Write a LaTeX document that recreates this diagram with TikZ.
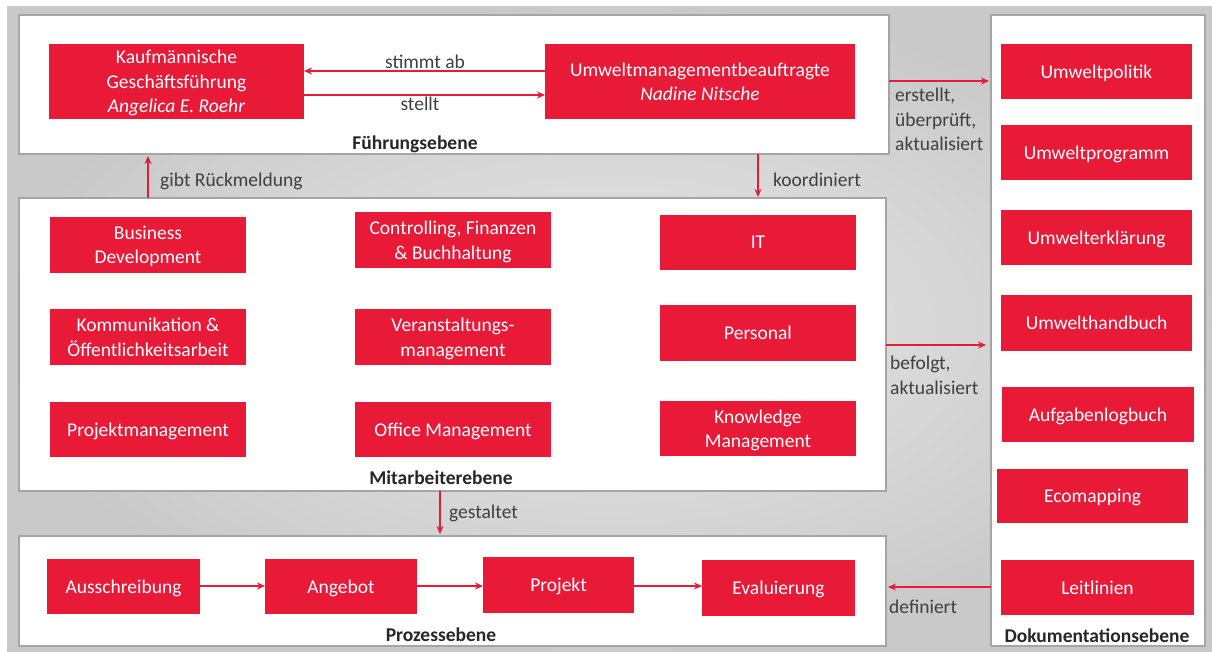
\documentclass[tikz,border=0pt]{standalone}
\usepackage{fontspec}
\setmainfont{Carlito}
\usetikzlibrary{arrows.meta,calc}
\definecolor{hred}{RGB}{232,26,55}
\definecolor{lblgray}{RGB}{64,64,64}
\definecolor{framegray}{RGB}{165,165,165}
\begin{document}
\begin{tikzpicture}[x=1pt,y=-1pt,
  txt/.style={font=\fontsize{19.5}{24.5}\selectfont},
  rbox/.style={txt,fill=hred,text=white,align=center,inner sep=0pt,outer sep=0pt,text depth=0pt},
  frame/.style={draw=framegray,line width=1.3pt,fill=white,inner sep=0pt,outer sep=0pt},
  lbl/.style={txt,text=lblgray,inner sep=0pt},
  lvl/.style={txt,font=\fontsize{19.5}{24.5}\selectfont\bfseries,text=black!85,inner sep=0pt},
  arr/.style={draw=hred,line width=2pt,-{Stealth[length=8pt,width=7pt]}}
]
\useasboundingbox (0,0) rectangle (1212,651);
\fill[white] (0,0) rectangle (1212,651);
\shade[inner color=gray!18,outer color=gray!42] (7,6) rectangle (1212,651);

% frames
\node[frame,minimum width=870pt,minimum height=139pt] (fe) at (454,84.5) {};
\node[frame,minimum width=867pt,minimum height=293pt] (me) at (452.5,344.5) {};
\node[frame,minimum width=867pt,minimum height=110pt] (pe) at (452.5,591) {};
\node[frame,minimum width=214pt,minimum height=631pt] (de) at (1098,330.5) {};

% Fuehrungsebene
\node[rbox,minimum width=255pt,minimum height=75pt] (kgf) at (176.5,81.5) {Kaufmännische\\Geschäftsführung\\\textit{Angelica E. Roehr}};
\node[rbox,minimum width=310pt,minimum height=75pt] (umb) at (700,81.5) {Umweltmanagementbeauftragte\\\textit{Nadine Nitsche}};
\node[lvl] (lfe) at (415,144) {Führungsebene};

% Mitarbeiterebene
\node[rbox,minimum width=196pt,minimum height=56pt] (bd) at (148,245) {Business\\Development};
\node[rbox,minimum width=196pt,minimum height=56pt] (kom) at (148,337) {Kommunikation \&\\Öffentlichkeitsarbeit};
\node[rbox,minimum width=196pt,minimum height=55pt] (pm) at (148,429.5) {Projektmanagement};
\node[rbox,minimum width=196pt,minimum height=56pt] (ctrl) at (453,240) {Controlling, Finanzen\\\& Buchhaltung};
\node[rbox,minimum width=196pt,minimum height=56pt] (va) at (453,337) {Veranstaltungs-\\management};
\node[rbox,minimum width=196pt,minimum height=55pt] (om) at (453,429.5) {Office Management};
\node[rbox,minimum width=196pt,minimum height=55pt] (it) at (758,242.5) {IT};
\node[rbox,minimum width=196pt,minimum height=56pt] (pers) at (758,333) {Personal};
\node[rbox,minimum width=196pt,minimum height=55pt] (km) at (758,428.5) {Knowledge\\Management};
\node[lvl] (lme) at (441,478) {Mitarbeiterebene};

% Prozessebene
\node[rbox,minimum width=153pt,minimum height=55pt] (aus) at (123.5,586.5) {Ausschreibung};
\node[rbox,minimum width=152pt,minimum height=55pt] (ang) at (341,586.5) {Angebot};
\node[rbox,minimum width=151pt,minimum height=56pt] (proj) at (558.5,585) {Projekt};
\node[rbox,minimum width=153pt,minimum height=56pt] (eval) at (778.5,588) {Evaluierung};
\node[lvl] (lpe) at (441,635) {Prozessebene};

% Dokumentationsebene
\node[rbox,minimum width=191pt,minimum height=55pt] (up) at (1096.5,71.5) {Umweltpolitik};
\node[rbox,minimum width=191pt,minimum height=55pt] (uprog) at (1096.5,152.5) {Umweltprogramm};
\node[rbox,minimum width=191pt,minimum height=55pt] (uerk) at (1096.5,237.5) {Umwelterklärung};
\node[rbox,minimum width=191pt,minimum height=56pt] (uhb) at (1096.5,323) {Umwelthandbuch};
\node[rbox,minimum width=192pt,minimum height=55pt] (alb) at (1098,414.5) {Aufgabenlogbuch};
\node[rbox,minimum width=191pt,minimum height=54pt] (eco) at (1092.5,496) {Ecomapping};
\node[rbox,minimum width=193pt,minimum height=55pt] (leit) at (1097.5,587.5) {Leitlinien};
\node[lvl] (lde) at (1097,636) {Dokumentationsebene};

% connectors in Fuehrungsebene
\draw[arr] ($(umb.west)+(0,-10.5)$) -- ($(kgf.east)+(0,-10.5)$);
\draw[arr] ($(kgf.east)+(0,13.5)$) -- ($(umb.west)+(0,13.5)$);
\node[lbl] (lstimmt) at (425,62) {stimmt ab};
\node[lbl] (lstellt) at (420,104) {stellt};

% between levels
\draw[arr] (bd.north |- me.north) -- ($(bd.north |- fe.south)+(0,2)$);
\node[lbl,anchor=west] (lgibt) at (160,181) {gibt Rückmeldung};
\draw[arr] (it.north |- fe.south) -- ($(it.north |- me.north)+(0,-1)$);
\node[lbl,anchor=west] (lkoord) at (773,180) {koordiniert};
\coordinate (gs) at (440,491);
\coordinate (ge) at (440,534);
\draw[arr] (gs) -- (ge);
\node[lbl,anchor=west] (lgest) at (449,513) {gestaltet};

% process flow
\draw[arr] ($(aus.east)+(0,-0.5)$) -- ($(aus.east -| ang.west)+(0,-0.5)$);
\draw[arr] ($(ang.east)+(0,-0.5)$) -- ($(ang.east -| proj.west)+(0,-0.5)$);
\draw[arr] ($(proj.east)+(0,1)$) -- ($(proj.east -| eval.west)+(0,1)$);

% to/from documentation
\draw[arr] ($(umb.east -| fe.east)+(0,-0.5)$) -- ($(umb.east -| de.west)+(-2,-0.5)$);
\node[lbl,anchor=north west,align=left] (lerst) at (895,88) {erstellt,\\überprüft,\\aktualisiert};
\coordinate (bs) at (886,345);
\coordinate (be) at (986,345);
\draw[arr] (bs) -- (be);
\node[lbl,anchor=north west,align=left] (lbef) at (890,356) {befolgt,\\aktualisiert};
\draw[arr] ($(leit.west -| de.west)+(0,-0.5)$) -- ($(leit.west -| pe.east)+(2,-0.5)$);
\node[lbl,anchor=west] (ldef) at (889,607) {definiert};
\end{tikzpicture}
\end{document}
